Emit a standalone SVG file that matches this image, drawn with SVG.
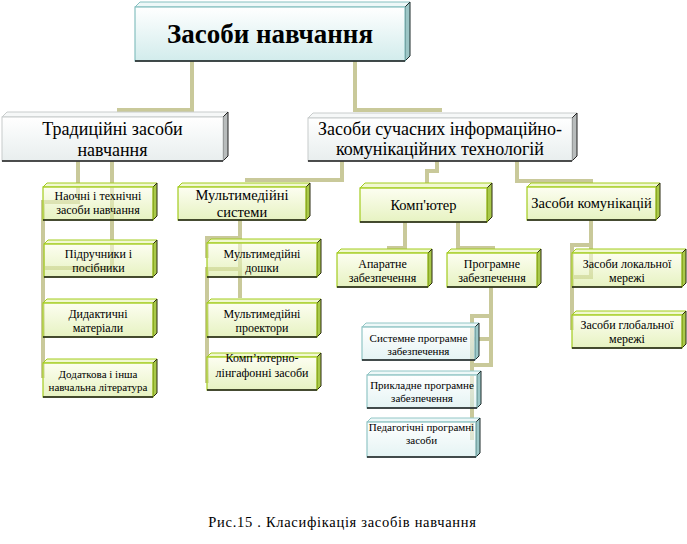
<svg xmlns="http://www.w3.org/2000/svg" width="687" height="544" viewBox="0 0 687 544" font-family="'Liberation Serif', 'DejaVu Serif', 'Times New Roman', serif">
<defs>
<linearGradient id="gG" x1="0" y1="0" x2="0" y2="1"><stop offset="0" stop-color="#fbfde8"/><stop offset="1" stop-color="#d6ea98"/></linearGradient>
<linearGradient id="gC" x1="0" y1="0" x2="0" y2="1"><stop offset="0" stop-color="#ffffff"/><stop offset="1" stop-color="#d3ecec"/></linearGradient>
<linearGradient id="gW" x1="0" y1="0" x2="0" y2="1"><stop offset="0" stop-color="#ffffff"/><stop offset="1" stop-color="#e8eeee"/></linearGradient>
<linearGradient id="gT" x1="0" y1="0" x2="0" y2="1"><stop offset="0" stop-color="#ffffff"/><stop offset="1" stop-color="#d2ecec"/></linearGradient>
</defs>
<style>
text{font-family:'Liberation Serif','DejaVu Serif','Times New Roman',serif;fill:#000;text-anchor:middle}
.fg{fill:url(#gG);fill-opacity:0.6;stroke:#a3cc1f;stroke-width:1.2}
.tg{fill:#f1f8d2;stroke:#a3cc1f;stroke-width:1}
.sg{fill:#a9c94a;stroke:#2a2a10;stroke-width:1}
.fc{fill:url(#gC);fill-opacity:0.6;stroke:#92c6c6;stroke-width:1.2}
.tc{fill:#eef8f8;stroke:#92c6c6;stroke-width:1}
.sc{fill:#9cc8c8;stroke:#1c2a2a;stroke-width:1}
.fw{fill:url(#gW);stroke:#c8cccc;stroke-width:1}
.tw{fill:#f6f8f8;stroke:#c8cccc;stroke-width:1}
.sw{fill:#b8bcbc;stroke:#222;stroke-width:1}
.ft{fill:url(#gT);stroke:#86c0c0;stroke-width:1.2}
.tt{fill:#eef8f8;stroke:#86c0c0;stroke-width:1}
.st{fill:#9cc6c6;stroke:#1c2a2a;stroke-width:1}
.bot{stroke:#1a1a1a;stroke-width:1.3}
.s12{font-size:12px}
.s11{font-size:11px}
.s14{font-size:14.5px}
.s18{font-size:18px}
.conn path{fill:none;stroke:#c9c99a;stroke-width:4;stroke-linejoin:miter;stroke-linecap:butt}
</style>

<g id="connectors" class="conn">
<path d="M192,61 V110 H117"/>
<path d="M355,61 V110 H442"/>
<path d="M78,161 V202 H43 V378"/>
<path d="M112,161 V268 H43"/>
<path d="M342,161 V180 H245"/>
<path d="M437,161 V171 H427 V183"/>
<path d="M517,161 V181 H593"/>
<path d="M240,220 V298"/>
<path d="M240,238 H207 V258"/>
<path d="M238,269 H207 V383"/>
<path d="M405,222 V248 H387"/>
<path d="M458,222 V248 H495"/>
<path d="M491,287 V365 H472"/>
<path d="M491,339 H472"/>
<path d="M491,316 H472 V440"/>
<path d="M591,220 V277 H572"/>
<path d="M591,245 H572 V330"/>
</g>

<g id="root">
<polygon class="tt" points="135,7 140,2 410,2 405,7"/>
<polygon class="st" points="405,7 410,2 410,56 405,61"/>
<rect class="ft" x="135" y="7" width="270" height="54"/>
<line class="bot" x1="135" y1="61" x2="405" y2="61"/>
<text x="270" y="43" style="font-size:27px;font-weight:bold">Засоби навчання</text>
</g>

<g id="trad">
<polygon class="tw" points="2,117 7,112 228,112 223,117"/>
<polygon class="sw" points="223,117 228,112 228,156 223,161"/>
<rect class="fw" x="2" y="117" width="221" height="44"/>
<line class="bot" x1="2" y1="161" x2="223" y2="161"/>
<text class="s18" x="112.5" y="135">Традиційні засоби</text>
<text class="s18" x="112.5" y="156">навчання</text>
</g>

<g id="ict">
<polygon class="tw" points="308,118 313,113 577,113 572,118"/>
<polygon class="sw" points="572,118 577,113 577,156 572,161"/>
<rect class="fw" x="308" y="118" width="264" height="43"/>
<line class="bot" x1="308" y1="161" x2="572" y2="161"/>
<text class="s18" x="440" y="135">Засоби сучасних інформаційно-</text>
<text class="s18" x="440" y="155">комунікаційних технологій</text>
</g>

<g id="naochni">
<polygon class="tg" points="43,187 47,183 157,183 153,187"/>
<polygon class="sg" points="153,187 157,183 157,216 153,220"/>
<rect class="fg" x="43" y="187" width="110" height="33"/>
<line class="bot" x1="43" y1="220" x2="153" y2="220"/>
<text class="s12" x="98" y="200">Наочні і технічні</text>
<text class="s12" x="98" y="214">засоби навчання</text>
</g>

<g id="pidruchnyky">
<polygon class="tg" points="44,244 48,240 157,240 153,244"/>
<polygon class="sg" points="153,244 157,240 157,273 153,277"/>
<rect class="fg" x="44" y="244" width="109" height="33"/>
<line class="bot" x1="44" y1="277" x2="153" y2="277"/>
<text class="s12" x="98.5" y="258">Підручники і</text>
<text class="s12" x="98.5" y="272">посібники</text>
</g>

<g id="dydaktychni">
<polygon class="tg" points="43,303 47,299 157,299 153,303"/>
<polygon class="sg" points="153,303 157,299 157,333 153,337"/>
<rect class="fg" x="43" y="303" width="110" height="34"/>
<line class="bot" x1="43" y1="337" x2="153" y2="337"/>
<text class="s12" x="98" y="318">Дидактичні</text>
<text class="s12" x="98" y="332">матеріали</text>
</g>

<g id="dodatkova">
<polygon class="tg" points="43,363 47,359 157,359 153,363"/>
<polygon class="sg" points="153,363 157,359 157,393 153,397"/>
<rect class="fg" x="43" y="363" width="110" height="34"/>
<line class="bot" x1="43" y1="397" x2="153" y2="397"/>
<text class="s11" x="98" y="378">Додаткова і інша</text>
<text class="s11" x="98" y="391">навчальна література</text>
</g>

<g id="multsys">
<polygon class="tg" points="178,187 182,183 310,183 306,187"/>
<polygon class="sg" points="306,187 310,183 310,216 306,220"/>
<rect class="fg" x="178" y="187" width="128" height="33"/>
<line class="bot" x1="178" y1="220" x2="306" y2="220"/>
<text class="s14" x="242" y="200">Мультимедійні</text>
<text class="s14" x="242" y="217">системи</text>
</g>

<g id="doshky">
<polygon class="tg" points="207,243 211,239 321,239 317,243"/>
<polygon class="sg" points="317,243 321,239 321,273 317,277"/>
<rect class="fg" x="207" y="243" width="110" height="34"/>
<line class="bot" x1="207" y1="277" x2="317" y2="277"/>
<text class="s12" x="262" y="258">Мультимедійні</text>
<text class="s12" x="262" y="272">дошки</text>
</g>

<g id="proektory">
<polygon class="tg" points="207,303 211,299 321,299 317,303"/>
<polygon class="sg" points="317,303 321,299 321,333 317,337"/>
<rect class="fg" x="207" y="303" width="110" height="34"/>
<line class="bot" x1="207" y1="337" x2="317" y2="337"/>
<text class="s12" x="262" y="318">Мультимедійні</text>
<text class="s12" x="262" y="332">проектори</text>
</g>

<g id="linhafonni">
<polygon class="tg" points="207,357 211,353 321,353 317,357"/>
<polygon class="sg" points="317,357 321,353 321,386 317,390"/>
<rect class="fg" x="207" y="357" width="110" height="33"/>
<line class="bot" x1="207" y1="390" x2="317" y2="390"/>
<text class="s12" x="262" y="362">Комп’ютерно-</text>
<text class="s12" x="262" y="377">лінгафонні засоби</text>
</g>

<g id="komputer">
<polygon class="tg" points="360,188 365,183 492,183 487,188"/>
<polygon class="sg" points="487,188 492,183 492,217 487,222"/>
<rect class="fg" x="360" y="188" width="127" height="34"/>
<line class="bot" x1="360" y1="222" x2="487" y2="222"/>
<text class="s14" x="423.5" y="210">Комп'ютер</text>
</g>

<g id="aparatne">
<polygon class="tg" points="337,253 341,249 432,249 428,253"/>
<polygon class="sg" points="428,253 432,249 432,283 428,287"/>
<rect class="fg" x="337" y="253" width="91" height="34"/>
<line class="bot" x1="337" y1="287" x2="428" y2="287"/>
<text class="s12" x="382.5" y="268">Апаратне</text>
<text class="s12" x="382.5" y="282">забезпечення</text>
</g>

<g id="prohramne">
<polygon class="tg" points="447,253 451,249 541,249 537,253"/>
<polygon class="sg" points="537,253 541,249 541,283 537,287"/>
<rect class="fg" x="447" y="253" width="90" height="34"/>
<line class="bot" x1="447" y1="287" x2="537" y2="287"/>
<text class="s12" x="492" y="268">Програмне</text>
<text class="s12" x="492" y="282">забезпечення</text>
</g>

<g id="systemne">
<polygon class="tc" points="362,327 366,323 479,323 475,327"/>
<polygon class="sc" points="475,327 479,323 479,356 475,360"/>
<rect class="fc" x="362" y="327" width="113" height="33"/>
<line class="bot" x1="362" y1="360" x2="475" y2="360"/>
<text class="s11" x="418.5" y="342">Системне програмне</text>
<text class="s11" x="418.5" y="355">забезпечення</text>
</g>

<g id="prykladne">
<polygon class="tc" points="367,375 371,371 481,371 477,375"/>
<polygon class="sc" points="477,375 481,371 481,404 477,408"/>
<rect class="fc" x="367" y="375" width="110" height="33"/>
<line class="bot" x1="367" y1="408" x2="477" y2="408"/>
<text class="s11" x="422" y="389">Прикладне програмне</text>
<text class="s11" x="422" y="402">забезпечення</text>
</g>

<g id="pedahohichni">
<polygon class="tc" points="367,422 371,418 480,418 476,422"/>
<polygon class="sc" points="476,422 480,418 480,453 476,457"/>
<rect class="fc" x="367" y="422" width="109" height="35"/>
<line class="bot" x1="367" y1="457" x2="476" y2="457"/>
<text class="s11" x="421.5" y="431">Педагогічні програмні</text>
<text class="s11" x="421.5" y="444">засоби</text>
</g>

<g id="komunikatsii">
<polygon class="tg" points="527,187 531,183 660,183 656,187"/>
<polygon class="sg" points="656,187 660,183 660,216 656,220"/>
<rect class="fg" x="527" y="187" width="129" height="33"/>
<line class="bot" x1="527" y1="220" x2="656" y2="220"/>
<text class="s14" x="591.5" y="208">Засоби комунікацій</text>
</g>

<g id="lokalnoi">
<polygon class="tg" points="572,253 576,249 686,249 682,253"/>
<polygon class="sg" points="682,253 686,249 686,283 682,287"/>
<rect class="fg" x="572" y="253" width="110" height="34"/>
<line class="bot" x1="572" y1="287" x2="682" y2="287"/>
<text class="s12" x="627" y="268">Засоби локальної</text>
<text class="s12" x="627" y="282">мережі</text>
</g>

<g id="hlobalnoi">
<polygon class="tg" points="572,315 576,311 686,311 682,315"/>
<polygon class="sg" points="682,315 686,311 686,344 682,348"/>
<rect class="fg" x="572" y="315" width="110" height="33"/>
<line class="bot" x1="572" y1="348" x2="682" y2="348"/>
<text class="s12" x="627" y="329">Засоби глобальної</text>
<text class="s12" x="627" y="343">мережі</text>
</g>

<text id="caption" x="342.5" y="527" style="font-size:14.5px;letter-spacing:0.7px">Рис.15 . Класифікація засобів навчання</text>
</svg>
